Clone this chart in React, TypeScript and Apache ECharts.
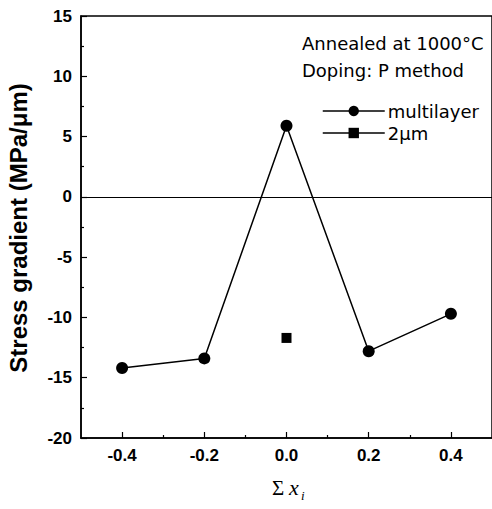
import React, { useEffect, useRef } from "react";
import * as echarts from "echarts";

const xValues = [-0.4, -0.2, 0.0, 0.2, 0.4];
const multilayer = [-14.2, -13.4, 5.9, -12.8, -9.7];
const twoMicronX = [0.0];
const twoMicron = [-11.7];
const xMajorTicks = [-0.4, -0.2, 0.0, 0.2, 0.4];
const xMinorTicks = [-0.3, -0.1, 0.1, 0.3];
const seriesNames = ["multilayer", "2\u03bcm"];
const notes = ["Annealed at 1000\u00b0C", "Doping: P method"];
const yTitle = "Stress gradient (MPa/\u03bcm)";

export default function App() {
  const ref = useRef<HTMLDivElement>(null);
  useEffect(() => {
    document.body.style.margin = "0";
    const chart = echarts.init(ref.current!, null, { renderer: "svg" });
    const tickFont = { fontFamily: "Liberation Sans", fontWeight: "bold" as const, fontSize: 17, color: "#000" };
    chart.setOption({
      animation: false,
      backgroundColor: "#fff",
      grid: {
        left: 81, top: 16, width: 417, height: 422,
        show: true, borderColor: "#000", borderWidth: 1.5, backgroundColor: "transparent",
      },
      legend: {
        orient: "vertical",
        left: 322,
        top: 102,
        padding: 0,
        itemWidth: 62,
        itemHeight: 13,
        itemGap: 4,
        lineStyle: { color: "#000", width: 1.5, type: "solid" },
        textStyle: { fontFamily: "DejaVu Sans", fontSize: 18, color: "#000", padding: [0, 0, 0, -2] },
        data: seriesNames,
      },
      xAxis: [
        {
          type: "value", min: -0.5, max: 0.5,
          axisLine: { show: true, onZero: false, lineStyle: { color: "#000", width: 1.5 } },
          axisTick: { show: true, inside: true, length: 6, customValues: xMajorTicks, lineStyle: { color: "#000", width: 1.2 } },
          axisLabel: { customValues: xMajorTicks, formatter: (v: number) => v.toFixed(1), margin: 9, ...tickFont },
          splitLine: { show: false },
        },
        {
          type: "value", min: -0.5, max: 0.5, position: "bottom",
          axisLine: { show: false, onZero: false },
          axisTick: { show: true, inside: true, length: 3, customValues: xMinorTicks, lineStyle: { color: "#000", width: 1.2 } },
          axisLabel: { show: false, customValues: xMinorTicks },
          splitLine: { show: false },
        },
      ],
      yAxis: {
        type: "value", min: -20, max: 15, interval: 5,
        axisLine: { show: true, onZero: false, lineStyle: { color: "#000", width: 1.5 } },
        axisTick: { show: true, inside: true, length: 6, lineStyle: { color: "#000", width: 1.2 } },
        minorTick: { show: true, splitNumber: 2, length: 3, lineStyle: { color: "#000", width: 1.2 } },
        axisLabel: { margin: 9, ...tickFont },
        splitLine: { show: false },
      },
      series: [
        {
          name: seriesNames[0],
          type: "line",
          data: xValues.map((x, i) => [x, multilayer[i]]),
          symbol: "circle",
          symbolSize: 12,
          itemStyle: { color: "#000" },
          lineStyle: { color: "#000", width: 1.5 },
          markLine: {
            silent: true,
            symbol: "none",
            label: { show: false },
            lineStyle: { color: "#000", width: 1.2, type: "solid" },
            data: [{ yAxis: 0 }],
          },
        },
        {
          name: seriesNames[1],
          type: "line",
          data: twoMicronX.map((x, i) => [x, twoMicron[i]]),
          symbol: "rect",
          symbolSize: 10,
          itemStyle: { color: "#000" },
          lineStyle: { color: "#000", width: 1.5 },
        },
      ],
      graphic: [
        {
          type: "text", left: 302, top: 34,
          style: { text: notes[0], font: "18px 'DejaVu Sans'", fill: "#000" },
        },
        {
          type: "text", left: 302, top: 61,
          style: { text: notes[1], font: "18px 'DejaVu Sans'", fill: "#000" },
        },
        {
          type: "text", x: 18, y: 228, rotation: Math.PI / 2,
          style: {
            text: yTitle, font: "bold 24px 'Liberation Sans'", fill: "#000",
            align: "center", verticalAlign: "middle",
          },
        },
        {
          type: "text", x: 272, y: 477,
          style: { text: "\u03a3", font: "21px 'Liberation Serif'", fill: "#000" },
        },
        {
          type: "text", x: 289, y: 476,
          style: { text: "x", font: "italic 22px 'Liberation Serif'", fill: "#000" },
        },
        {
          type: "text", x: 301, y: 489,
          style: { text: "i", font: "italic 13px 'Liberation Serif'", fill: "#000" },
        },
      ],
    });
    return () => chart.dispose();
  }, []);
  return <div ref={ref} style={{ width: 492, height: 509 }} />;
}
